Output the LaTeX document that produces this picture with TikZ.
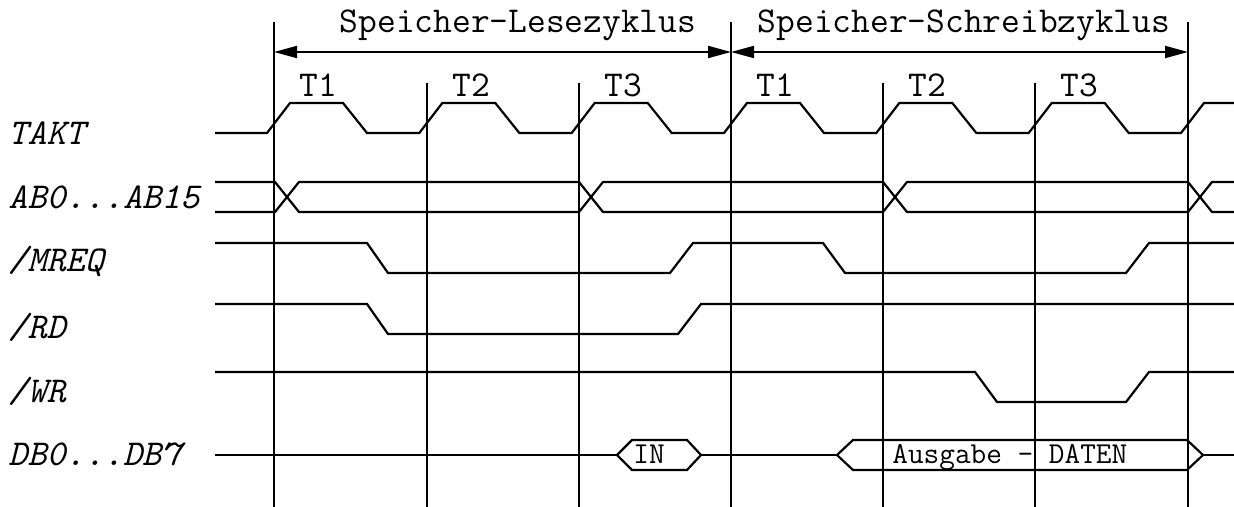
\documentclass[tikz,border=0pt]{standalone}
\usepackage{fontspec}
\usetikzlibrary{positioning,arrows.meta}

\tikzset{
  sigline/.style={line width=1.1pt, line join=miter},
  gridline/.style={line width=0.65pt},
  cyclearrow/.style={line width=1pt, {Triangle[length=11.5pt,width=6pt]}-{Triangle[length=11.5pt,width=6pt]}},
  cyclelabel/.style={font=\ttfamily\fontsize{18.2}{20}\selectfont, anchor=base, inner sep=0pt},
  signame/.style={font=\ttfamily\itshape\fontsize{18.2}{20}\selectfont, anchor=base west, inner sep=0pt},
  datatext/.style={font=\ttfamily\fontsize{15.2}{17}\selectfont, anchor=base west, inner sep=0pt},
}

\begin{document}
\begin{tikzpicture}[x=0.5pt,y=-0.5pt]
    \useasboundingbox (0,0) rectangle (1234,507);

    % Taktgrenzen
    \foreach \v in {274,731,1188} \draw[gridline] (\v,22) -- (\v,507);
    \foreach \v in {427,579,883,1035} \draw[gridline] (\v,83) -- (\v,507);

    \coordinate (readStart) at (274,52);
    \coordinate (writeStart) at (731,52);
    \coordinate (writeEnd) at (1188,52);
    \draw[cyclearrow] (readStart) -- (writeStart);
    \draw[cyclearrow] (writeStart) -- (writeEnd);
    \node[cyclelabel] (readCycle) at (518,33) {Speicher-Lesezyklus};
    \node[cyclelabel] (writeCycle) at (964,33) {Speicher-Schreibzyklus};

    \foreach \v/\t [count=\i] in {274/T1,427/T2,579/T3,731/T1,883/T2,1035/T3}
      \node[cyclelabel] (t\i) at (\v+44,97) {\t};

    % Signalnamen
    \node[signame] (takt) at (8,145) {TAKT};
    \node[signame] (ab) at (8,209) {AB0...AB15};
    \node[signame] (mreq) at (8,271) {/MREQ};
    \node[signame] (rd) at (8,338) {/RD};
    \node[signame] (wr) at (8,402) {/WR};
    \node[signame] (db) at (8,465) {DB0...DB7};

    % TAKT
    \draw[sigline] (215,133)
      \foreach \v in {274,426.3,578.7,731,883.3,1035.7} {
        -- (\v-7,133) -- (\v+16,103) -- (\v+69,103) -- (\v+93,133) }
      -- (1181,133) -- (1204,103) -- (1234,103);

    % AB0...AB15
    \draw[sigline] (215,182) -- (275,182) -- (299,212) -- (579,212) -- (603,182)
      -- (883,182) -- (907,212) -- (1188,212) -- (1212,182) -- (1234,182);
    \draw[sigline] (215,212) -- (275,212) -- (299,182) -- (579,182) -- (603,212)
      -- (883,212) -- (907,182) -- (1188,182) -- (1212,212) -- (1234,212);

    % /MREQ, /RD, /WR
    \draw[sigline] (215,243) -- (367,243) -- (388,273) -- (670,273) -- (693,243)
      -- (823,243) -- (845,273) -- (1126,273) -- (1149,243) -- (1234,243);
    \draw[sigline] (215,304) -- (367,304) -- (388,334) -- (678,334) -- (701,304) -- (1234,304);
    \draw[sigline] (215,372) -- (975,372) -- (997,402) -- (1126,402) -- (1149,372) -- (1234,372);

    % DB0...DB7
    \draw[sigline] (215,455) -- (617,455);
    \draw[sigline] (617,455) -- (632,440) -- (687,440) -- (701,455) -- (687,470) -- (632,470) -- cycle;
    \draw[sigline] (701,455) -- (837,455);
    \draw[sigline] (837,455) -- (853,440) -- (1187,440) -- (1203,455) -- (1187,470) -- (853,470) -- cycle;
    \draw[sigline] (1203,455) -- (1234,455);
    \node[datatext] (dataIn) at (633,463) {IN};
    \node[datatext] (dataOut) at (892,463) {Ausgabe - DATEN};
\end{tikzpicture}
\end{document}
